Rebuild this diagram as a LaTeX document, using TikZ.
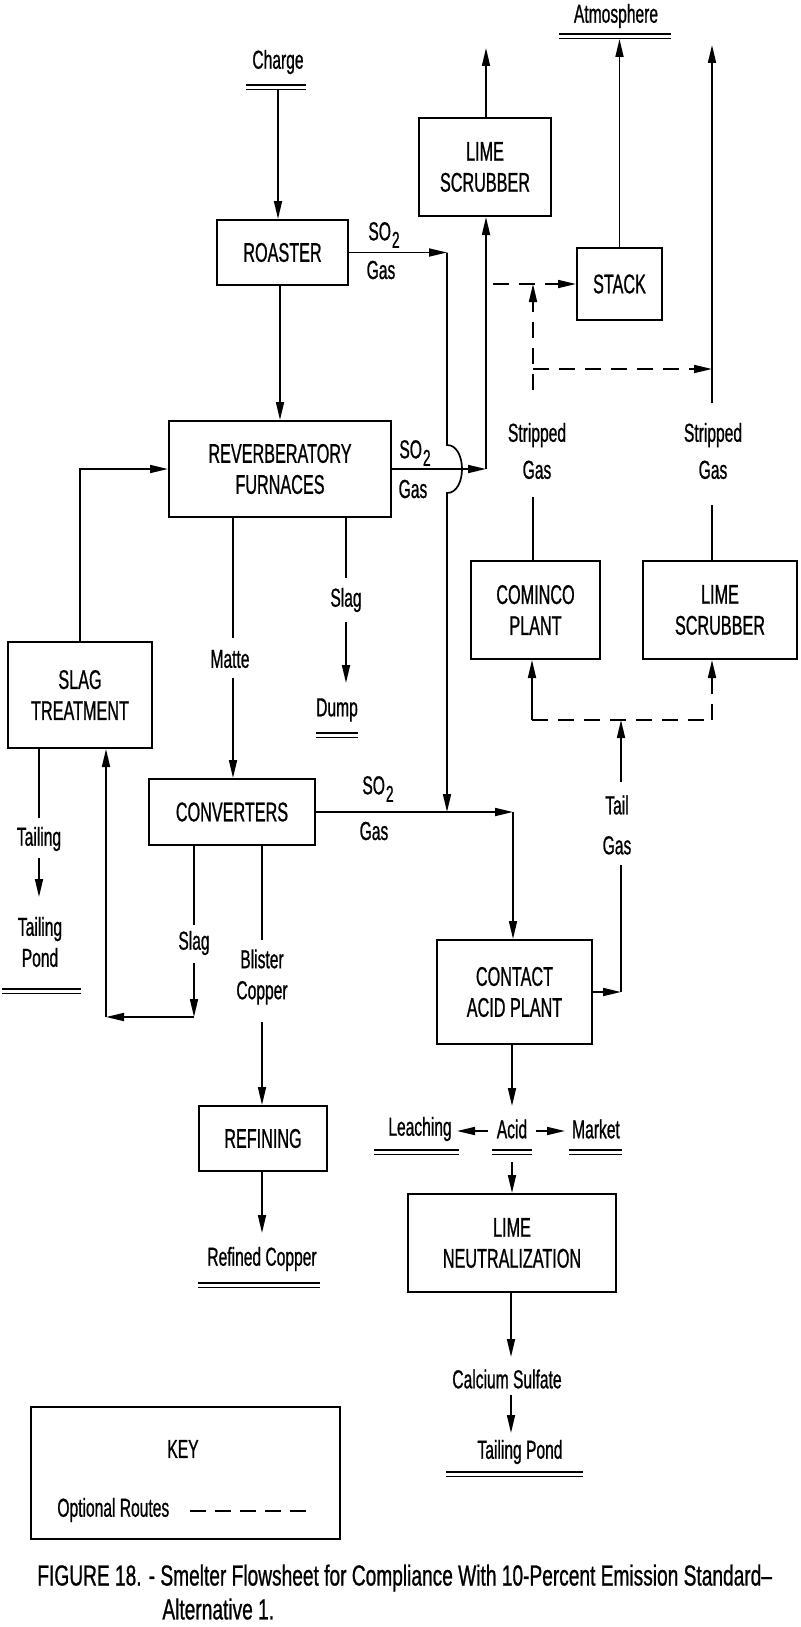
\documentclass[tikz,border=0pt]{standalone}
\usepackage{fontspec}
\setmainfont{Liberation Sans}[FakeStretch=0.6,FakeBold=0.8]
\newfontfamily\capfont{Liberation Sans}[FakeStretch=0.66,FakeBold=0.8]
\usetikzlibrary{arrows.meta}
\newcommand\dul[3]{\draw[line width=0.9pt] (#1,#3) -- (#2,#3) (#1,#3+4.5) -- (#2,#3+4.5);}
\newcommand\sotwo{SO\kern0.5pt\raisebox{-0.55ex}{\fontsize{11.5}{11.5}\selectfont 2}}
\begin{document}
\begin{tikzpicture}[x=0.5pt,y=-0.5pt,
  font=\fontsize{13}{15.5}\selectfont,
  box/.style={draw, line width=1pt, align=center, inner sep=0pt, font=\fontsize{13.5}{15.5}\selectfont},
  lbl/.style={align=center, inner sep=0pt},
  ln/.style={line width=0.85pt},
  arr/.style={line width=0.85pt, -{Triangle[length=9pt,width=4pt]}},
  dsh/.style={line width=0.85pt, dash pattern=on 8pt off 5pt},
  darr/.style={dsh, -{Triangle[length=9pt,width=4pt]}},
  captext/.style={lbl, anchor=west, font=\capfont\fontsize{14.5}{17}\selectfont}]
\useasboundingbox (0,0) rectangle (800,1627);

% ---------- boxes ----------
\node[box, minimum width=65.5pt, minimum height=32.5pt] (roaster) at (282.5,252.5) {ROASTER};
\node[box, minimum width=66pt, minimum height=49pt] (limeA) at (485,167) {LIME\\SCRUBBER};
\node[box, minimum width=42.5pt, minimum height=36pt] (stack) at (619.5,284) {STACK};
\node[box, minimum width=111pt, minimum height=48pt] (reverb) at (280,469) {REVERBERATORY\\FURNACES};
\node[box, minimum width=64.5pt, minimum height=49pt] (cominco) at (535.5,610) {COMINCO\\PLANT};
\node[box, minimum width=77pt, minimum height=49pt] (limeB) at (720,610) {LIME\\SCRUBBER};
\node[box, minimum width=72pt, minimum height=53pt] (slagtr) at (80,695) {SLAG\\TREATMENT};
\node[box, minimum width=83pt, minimum height=33pt] (conv) at (232,812) {CONVERTERS};
\node[box, minimum width=77.5pt, minimum height=52pt] (contact) at (514.5,992) {CONTACT\\ACID PLANT};
\node[box, minimum width=64pt, minimum height=32.5pt] (refining) at (263,1138.5) {REFINING};
\node[box, minimum width=104pt, minimum height=49pt] (limeN) at (512,1243) {LIME\\NEUTRALIZATION};
\node[box, minimum width=154.5pt, minimum height=66pt] (key) at (185.5,1473) {};

% ---------- labels ----------
\node[lbl] (charge) at (278,62) {Charge};
\dul{246}{306}{85}
\node[lbl] (atmos) at (616,16) {Atmosphere};
\dul{559}{671}{34}
\node[lbl] (so2a) at (384,235) {\sotwo};
\node[lbl] (gasa) at (381,270) {Gas};
\node[lbl] (so2b) at (415,453) {\sotwo};
\node[lbl] (gasb) at (413,489) {Gas};
\node[lbl] (so2c) at (378,789) {\sotwo};
\node[lbl] (gasc) at (374,831) {Gas};
\node[lbl, font=\fontsize{13}{18.5}\selectfont] (sg1) at (537,451) {Stripped\\Gas};
\node[lbl, font=\fontsize{13}{18.5}\selectfont] (sg2) at (713,451) {Stripped\\Gas};
\node[lbl, font=\fontsize{13}{20}\selectfont] (tail) at (617,825) {Tail\\Gas};
\node[lbl] (matte) at (230,659) {Matte};
\node[lbl] (slag1) at (346,600) {Slag};
\node[lbl] (dump) at (337,710) {Dump};
\dul{316}{358}{733}
\node[lbl] (tailing) at (39,839) {Tailing};
\node[lbl] (tpond1) at (40,942) {Tailing\\Pond};
\dul{2}{81}{989}
\node[lbl] (slag2) at (194,943) {Slag};
\node[lbl] (blister) at (262,977) {Blister\\Copper};
\node[lbl] (refined) at (262,1259) {Refined Copper};
\dul{198}{320}{1283}
\node[lbl] (acid) at (512,1129) {Acid};
\dul{492}{532}{1150}
\node[lbl] (leach) at (420,1129) {Leaching};
\dul{374}{459}{1150}
\node[lbl] (market) at (596,1129) {Market};
\dul{569}{622}{1150}
\node[lbl] (calc) at (507,1379) {Calcium Sulfate};
\node[lbl] (tpond2) at (520,1452) {Tailing Pond};
\dul{446}{583}{1472}
\node[lbl] (keyt) at (183,1449) {KEY};
\node[lbl, anchor=west] (opt) at (57,1510) {Optional Routes};
\node[captext] (cap1) at (37,1578) {FIGURE 18. - Smelter Flowsheet for Compliance With 10-Percent Emission Standard–};
\node[captext] (cap2) at (162,1609) {Alternative 1.};

% ---------- coordinates ----------
\coordinate (chargeb) at (278,89.5);
\coordinate (c1) at (447,252.5);
\coordinate (c2) at (447,812);
\coordinate (c3) at (486,469);
\coordinate (c4) at (513,812);
\coordinate (limeAup) at (486,48);
\coordinate (atmosb) at (619.5,39);
\coordinate (r1) at (712,403);
\coordinate (rtop) at (712,45);
\coordinate (dl) at (493,284);
\coordinate (t1) at (533,390);
\coordinate (t2) at (533,369);
\coordinate (t3) at (712,369);
\coordinate (tg1) at (621,992);
\coordinate (tgj) at (621,720);
\coordinate (jl) at (532,720);
\coordinate (jr) at (712,720);
\coordinate (sl1) at (194,1017);
\coordinate (sl2) at (106,1017);

% ---------- connectors ----------
\draw[arr] (chargeb) -- (chargeb |- roaster.north);
\draw[arr] (roaster.east) -- (c1);
\draw[ln] (c1) -- (447,445) .. controls (467,445) and (467,493) .. (447,493) -- (447,760);
\draw[arr] (447,760) -- (c2);
\draw[arr] (roaster.south -| 280,0) -- (280,0 |- reverb.north);
\draw[arr] (reverb.east) -- (c3);
\draw[arr] (c3) -- (c3 |- limeA.south);
\draw[arr] (limeA.north -| c3) -- (limeAup);
\draw[arr] (stack.north) -- (atmosb);
\draw[arr] (r1) -- (rtop);
% optional routes at top
\draw[darr] (dl) -- (stack.west);
\draw[darr] (t1) -- (533,284);
\draw[darr] (t2) -- (t3);
\draw[ln] (cominco.north -| t1) -- (533,497);
\draw[ln] (limeB.north -| r1) -- (712,505);
% tail gas
\draw[arr] (contact.east) -- (tg1);
\draw[ln] (tg1) -- (621,865);
\draw[arr] (621,782) -- (tgj);
\draw[dsh] (jl) -- (jr);
\draw[arr] (jl) -- (jl |- cominco.south);
\draw[darr] (jr) -- (jr |- limeB.south);
% reverb outputs
\draw[ln] (233,0 |- reverb.south) -- (233,638);
\draw[arr] (233,678) -- (233,0 |- conv.north);
\draw[ln] (346,0 |- reverb.south) -- (346,578);
\draw[arr] (346,622) -- (346,683);
% slag treatment
\draw[arr] (slagtr.north) |- (reverb.west);
\draw[ln] (39,0 |- slagtr.south) -- (39,818);
\draw[arr] (39,858) -- (39,897);
% converters
\draw[ln] (194,0 |- conv.south) -- (194,925);
\draw[arr] (194,963) -- (sl1);
\draw[arr] (sl1) -- (sl2);
\draw[arr] (sl2) -- (sl2 |- slagtr.south);
\draw[ln] (262,0 |- conv.south) -- (262,940);
\draw[arr] (262,1022) -- (262,0 |- refining.north);
\draw[arr] (262,0 |- refining.south) -- (262,1233);
\draw[ln] (conv.east) -- (c2);
\draw[arr] (c2) -- (c4);
\draw[arr] (c4) -- (c4 |- contact.north);
% acid
\draw[arr] (512,0 |- contact.south) -- (512,1106);
\draw[arr] (488,1131) -- (457,1131);
\draw[arr] (536,1131) -- (565,1131);
\draw[arr] (512,1162) -- (512,0 |- limeN.north);
\draw[arr] (511,0 |- limeN.south) -- (511,1357);
\draw[arr] (511,1395) -- (511,1433);
% key
\draw[line width=0.85pt, dash pattern=on 8pt off 4.5pt] (190,1511) -- (310,1511);
\end{tikzpicture}
\end{document}
